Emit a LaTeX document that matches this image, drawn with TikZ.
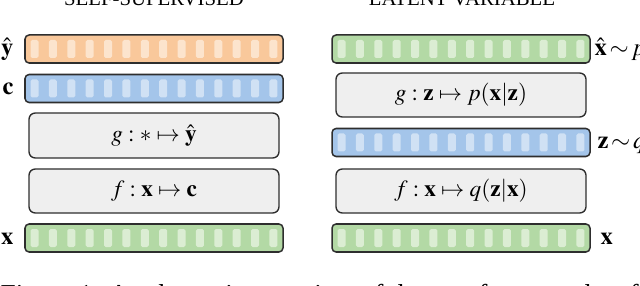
\documentclass[tikz,border=0pt]{standalone}
\usepackage{mathptmx}
\usepackage[no-math]{fontspec}
\setmainfont{Liberation Serif}
\usetikzlibrary{calc}
\definecolor{orF}{HTML}{F9C89B}
\definecolor{orC}{HTML}{FCE4CD}
\definecolor{blF}{HTML}{A4C5EA}
\definecolor{blC}{HTML}{D0E1F4}
\definecolor{grF}{HTML}{B3D9A5}
\definecolor{grC}{HTML}{DBEDD3}
\definecolor{bxF}{HTML}{EFEFEF}
\definecolor{edge}{HTML}{2E2E2E}
\newdimen\pxu \pxu=0.3656pt
\tikzset{
  bar/.style={draw=edge, line width=0.55pt, rounded corners=1.5pt, minimum width=258\pxu, minimum height=28\pxu, inner sep=0pt, outer sep=0pt},
  funcbox/.style={draw=edge, line width=0.5pt, fill=bxF, rounded corners=2.3pt, minimum width=250\pxu, minimum height=44\pxu, inner sep=0pt, outer sep=0pt, font=\fontsize{8.5}{10}\selectfont},
  lbl/.style={inner sep=0pt, font=\fontsize{9}{10}\selectfont},
  ttl/.style={inner sep=0pt, anchor=base, font=\fontsize{7.6}{8}\selectfont},
}
\newcommand\cellrow[2]{\foreach \i in {0,...,13}{\fill[#2, rounded corners=0.6pt] ($(#1.west)+({5.5+18.38*\i},-9)$) rectangle ++(8,18);}}
\begin{document}
\begin{tikzpicture}[x=0.3656pt, y=-0.3656pt]
\useasboundingbox (0,0) rectangle (640,286);
% titles
\node[ttl] (t1) at (154,6) {SELF-SUPERVISED};
\node[ttl] (t2) at (462,6) {LATENT VARIABLE};
% left column
\node[bar, fill=orF] (yh) at (154,49) {};
\cellrow{yh}{orC}
\node[bar, fill=blF] (c) at (154,88.5) {};
\cellrow{c}{blC}
\node[funcbox, minimum height=45\pxu] (g1) at (154,135.5) {$g:\ast\mapsto\hat{\mathbf{y}}$};
\node[funcbox] (f1) at (154,191) {$f:\mathbf{x}\mapsto\mathbf{c}$};
\node[bar, fill=grF] (x1) at (154,238) {};
\cellrow{x1}{grC}
\node[lbl, anchor=mid east] (lyh) at (14,49) {$\hat{\mathbf{y}}$};
\node[lbl, anchor=mid east] (lc) at (14,88.5) {$\mathbf{c}$};
\node[lbl, anchor=mid east] (lx1) at (14,238) {$\mathbf{x}$};
% right column
\node[bar, fill=grF] (xh) at (461,49) {};
\cellrow{xh}{grC}
\node[funcbox] (g2) at (461,95) {$g:\mathbf{z}\mapsto p(\mathbf{x}|\mathbf{z})$};
\node[bar, fill=blF] (z) at (461,142.5) {};
\cellrow{z}{blC}
\node[funcbox] (f2) at (461,191) {$f:\mathbf{x}\mapsto q(\mathbf{z}|\mathbf{x})$};
\node[bar, fill=grF] (x2) at (461,238) {};
\cellrow{x2}{grC}
\node[lbl, anchor=mid west] (lxh) at (594,49) {$\hat{\mathbf{x}}\!\sim\! p$};
\node[lbl, anchor=mid west] (lz) at (597,142.5) {$\mathbf{z}\!\sim\! q$};
\node[lbl, anchor=mid west] (lx2) at (600,238) {$\mathbf{x}$};
% caption (clipped)
\node[inner sep=0pt, anchor=base west, font=\fontsize{10}{12}\selectfont] (cap) at (0,303) {Figure 1: A schematic overview of the two frameworks of representation learning.};
\end{tikzpicture}
\end{document}
